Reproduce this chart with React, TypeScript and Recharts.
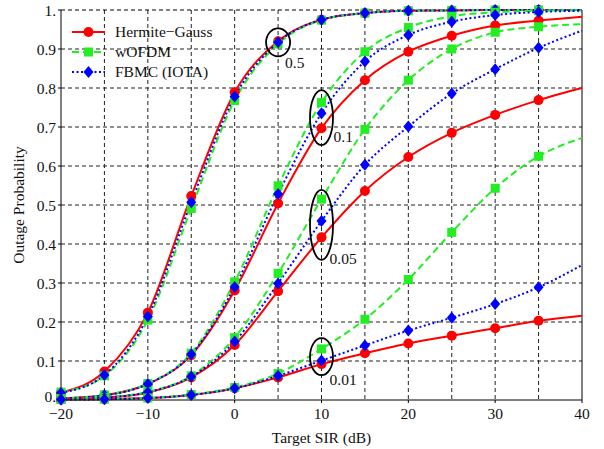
import { CartesianGrid, Legend, Line, LineChart, ReferenceDot, ReferenceLine, XAxis, YAxis } from "recharts";

const sir = [-20, -15, -10, -5, 0, 5, 10, 15, 20, 25, 30, 35, 40];

// outage probability, one array per (waveform, threshold)
const hg05 = [0.019, 0.073, 0.224, 0.523, 0.789, 0.92, 0.975, 0.992, 0.998, 0.999, 1, 1, 1];
const wo05 = [0.02, 0.062, 0.205, 0.491, 0.768, 0.913, 0.974, 0.992, 0.998, 0.999, 1, 1, 1];
const fb05 = [0.018, 0.064, 0.214, 0.507, 0.778, 0.917, 0.975, 0.992, 0.998, 0.999, 1, 1, 1];

const hg01 = [0.004, 0.012, 0.041, 0.115, 0.281, 0.504, 0.697, 0.82, 0.893, 0.934, 0.96, 0.973, 0.983];
const wo01 = [0.004, 0.013, 0.042, 0.12, 0.303, 0.549, 0.763, 0.893, 0.955, 0.984, 0.994, 0.998, 0.999];
const fb01 = [0.004, 0.012, 0.041, 0.117, 0.29, 0.528, 0.735, 0.868, 0.936, 0.97, 0.987, 0.995, 0.998];

const hg005 = [0.002, 0.006, 0.019, 0.058, 0.141, 0.279, 0.417, 0.536, 0.623, 0.685, 0.731, 0.769, 0.8];
const wo005 = [0.002, 0.007, 0.021, 0.062, 0.16, 0.325, 0.515, 0.694, 0.82, 0.9, 0.943, 0.957, 0.964];
const fb005 = [0.002, 0.006, 0.02, 0.06, 0.15, 0.299, 0.459, 0.603, 0.701, 0.786, 0.848, 0.903, 0.947];

const hg001 = [0.001, 0.002, 0.005, 0.013, 0.03, 0.058, 0.092, 0.12, 0.145, 0.165, 0.184, 0.203, 0.216];
const wo001 = [0.001, 0.002, 0.005, 0.014, 0.032, 0.068, 0.131, 0.207, 0.309, 0.43, 0.543, 0.625, 0.672];
const fb001 = [0.001, 0.002, 0.005, 0.013, 0.03, 0.062, 0.101, 0.14, 0.178, 0.211, 0.246, 0.289, 0.346];

const xTicks = [-20, -10, 0, 10, 20, 30, 40];
const yTicks = [0, 0.1, 0.2, 0.3, 0.4, 0.5, 0.6, 0.7, 0.8, 0.9, 1];
const xGrid = [-15, -10, -5, 0, 5, 10, 15, 20, 25, 30, 35];
const yGrid = [0.1, 0.2, 0.3, 0.4, 0.5, 0.6, 0.7, 0.8, 0.9];

// circled groups: x, center y, label
const groupMarks = [
  { x: 5, y: 0.917, label: "0.5", rx: 12, ry: 14, dx: 7, dy: 26 },
  { x: 10, y: 0.724, label: "0.1", rx: 11.5, ry: 27.5, dx: 12, dy: 24 },
  { x: 10, y: 0.449, label: "0.05", rx: 11.5, ry: 35, dx: 8, dy: 39 },
  { x: 10, y: 0.111, label: "0.01", rx: 11.5, ry: 18.5, dx: 8, dy: 28 },
];

const data = sir.map((x, i) => ({
  x,
  hg05: hg05[i], wo05: wo05[i], fb05: fb05[i],
  hg01: hg01[i], wo01: wo01[i], fb01: fb01[i],
  hg005: hg005[i], wo005: wo005[i], fb005: fb005[i],
  hg001: hg001[i], wo001: wo001[i], fb001: fb001[i],
}));

const RED = "#ff0000";
const GREEN = "#22ee22";
const BLUE = "#0000ff";
const FONT = "'Liberation Serif', 'Times New Roman', serif";

function marker(kind: string, cx: number, cy: number) {
  if (kind === "hg") return <circle cx={cx} cy={cy} r={5} fill={RED} />;
  if (kind === "wo") return <rect x={cx - 4.5} y={cy - 4.5} width={9} height={9} fill={GREEN} />;
  return <polygon points={`${cx},${cy - 6} ${cx + 5},${cy} ${cx},${cy + 6} ${cx - 5},${cy}`} fill={BLUE} />;
}

function dotFor(kind: string) {
  return (props: any) => {
    const { cx, cy, payload, index } = props;
    if (payload.x === 40 || cx == null || cy == null) return <g key={`d-${kind}-${index}`} />;
    return <g key={`d-${kind}-${index}`}>{marker(kind, cx, cy)}</g>;
  };
}

const styles: Record<string, { color: string; dash?: string }> = {
  hg: { color: RED },
  wo: { color: GREEN, dash: "7 4" },
  fb: { color: BLUE, dash: "2 2.5" },
};

const seriesKeys = ["05", "01", "005", "001"];

function LegendBox() {
  const rows = [
    { kind: "hg", name: "Hermite\u2212Gauss" },
    { kind: "wo", name: "wOFDM" },
    { kind: "fb", name: "FBMC (IOTA)" },
  ];
  return (
    <svg width={170} height={64} style={{ overflow: "visible" }}>
      {rows.map((r, i) => {
        const y = 13 + i * 20;
        return (
          <g key={r.kind}>
            <line x1={0} x2={33} y1={y} y2={y} stroke={styles[r.kind].color} strokeWidth={2} strokeDasharray={styles[r.kind].dash} />
            {marker(r.kind, 16.5, y)}
            <text x={43} y={y + 5} fontFamily={FONT} fontSize={15.5} fill="#111">
              {r.name}
            </text>
          </g>
        );
      })}
    </svg>
  );
}

const fmtY = (v: number) => (v === 0 ? "0." : v === 1 ? "1." : v.toFixed(1));
const fmtX = (v: number) => (v < 0 ? `\u2212${-v}` : `${v}`);

function YTick(props: any) {
  const { x, y, payload } = props;
  const v = payload.value as number;
  const lift = v === 0 ? -4 : 0;
  return (
    <text x={x} y={y + lift} dy="0.355em" textAnchor="end" fontFamily={FONT} fontSize={15.5} fill="#111">
      {fmtY(v)}
    </text>
  );
}

export default function App() {
  return (
    <div style={{ position: "absolute", left: 0, top: 0, width: 604, height: 449, background: "#fff" }}>
      <LineChart width={604} height={449} data={data} margin={{ top: 10, right: 22, left: 0, bottom: 0 }}>
        <CartesianGrid
          stroke="#222"
          strokeDasharray="4 3"
          verticalValues={xGrid}
          horizontalValues={yGrid}
        />
        <XAxis
          dataKey="x"
          type="number"
          domain={[-20, 40]}
          ticks={xTicks}
          tickFormatter={fmtX}
          height={49}
          stroke="#000"
          tickSize={3}
          tick={{ fill: "#111", fontSize: 15.5, fontFamily: FONT, dy: 3 }}
          label={{ value: "Target SIR (dB)", position: "insideBottom", offset: 6, fill: "#111", fontSize: 15.5, fontFamily: FONT }}
        />
        <YAxis
          type="number"
          domain={[0, 1]}
          ticks={yTicks}
          width={61}
          stroke="#000"
          tickSize={3}
          tick={<YTick />}
          label={{ value: "Outage Probability", angle: -90, position: "insideLeft", offset: 18, style: { textAnchor: "middle" }, fill: "#111", fontSize: 15.5, fontFamily: FONT }}
        />
        <ReferenceLine y={1} stroke="#000" strokeDasharray="4 3" />
        <ReferenceLine x={40} stroke="#000" />
        {seriesKeys.flatMap((g) =>
          ["hg", "wo", "fb"].map((k) => (
            <Line
              key={k + g}
              dataKey={k + g}
              type="monotone"
              stroke={styles[k].color}
              strokeWidth={2}
              strokeDasharray={styles[k].dash}
              dot={dotFor(k)}
              activeDot={false}
              isAnimationActive={false}
              legendType="none"
            />
          ))
        )}
        {groupMarks.map((m) => (
          <ReferenceDot
            key={m.label}
            x={m.x}
            y={m.y}
            ifOverflow="visible"
            shape={(p: any) => (
              <g>
                <ellipse cx={p.cx} cy={p.cy} rx={m.rx} ry={m.ry} fill="none" stroke="#000" strokeWidth={1.8} />
                <text x={p.cx + m.dx} y={p.cy + m.dy} fontFamily={FONT} fontSize={15.5} fill="#111">
                  {m.label}
                </text>
              </g>
            )}
          />
        ))}
        <Legend
          layout="vertical"
          align="center"
          verticalAlign="middle"
          content={() => <LegendBox />}
          wrapperStyle={{ position: "absolute", left: 72, top: 19, width: 170 }}
        />
      </LineChart>
    </div>
  );
}
